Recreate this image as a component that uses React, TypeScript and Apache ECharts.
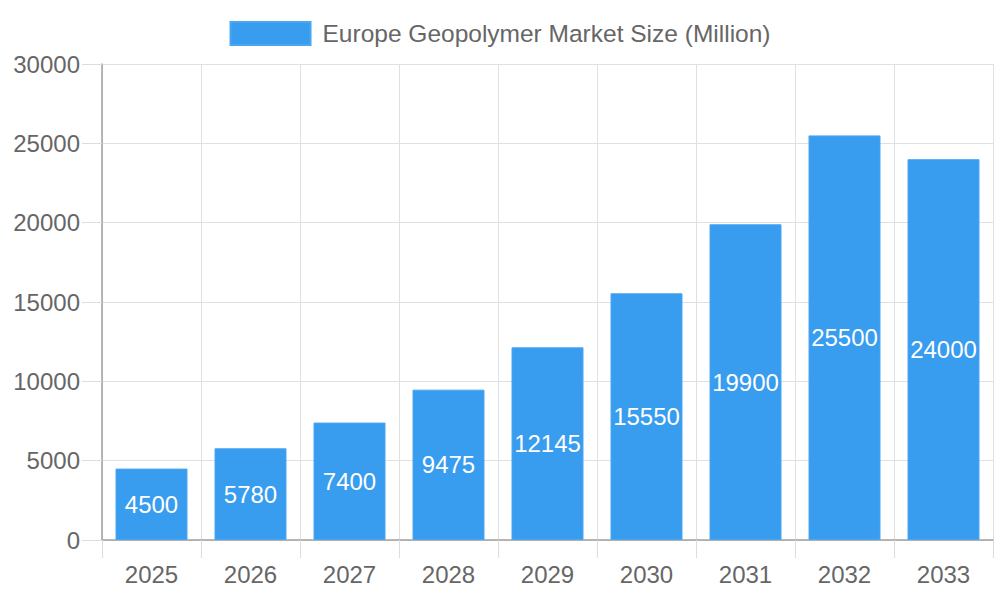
import React, { useEffect, useRef } from "react";
import * as echarts from "echarts";

const categories = ["2025", "2026", "2027", "2028", "2029", "2030", "2031", "2032", "2033"];
const marketSize = [4500, 5780, 7400, 9475, 12145, 15550, 19900, 25500, 24000];
const seriesName = "Europe Geopolymer Market Size (Million)";

const FONT = "'Liberation Sans', Arial, Helvetica, sans-serif";

export default function App() {
  const ref = useRef<HTMLDivElement>(null);
  useEffect(() => {
    const chart = echarts.init(ref.current!, undefined, { renderer: "svg" });
    chart.setOption({
      animation: false,
      textStyle: { fontFamily: FONT },
      legend: {
        top: 16,
        left: "center",
        itemWidth: 80,
        itemHeight: 23,
        itemGap: 12,
        textStyle: { fontSize: 24.5, color: "#666", fontFamily: FONT, padding: [0, 0, 0, 7] },
        data: [{ name: seriesName, icon: "rect" }],
      },
      grid: { left: 102, right: 7, top: 64, bottom: 60 },
      xAxis: {
        type: "category",
        data: categories,
        boundaryGap: true,
        axisLine: { lineStyle: { color: "#a0a0a0", width: 1.5 } },
        axisTick: { show: true, length: 18, alignWithLabel: false, lineStyle: { color: "#dddddd" } },
        splitLine: { show: true, lineStyle: { color: "#e0e0e0" } },
        axisLabel: { fontSize: 24, color: "#666", margin: 22, fontFamily: FONT },
      },
      yAxis: {
        type: "value",
        min: 0,
        max: 30000,
        interval: 5000,
        axisLine: { show: true, lineStyle: { color: "#a0a0a0", width: 1.5 } },
        axisTick: { show: true, length: 20, lineStyle: { color: "#dddddd" } },
        splitLine: { show: true, lineStyle: { color: "#e0e0e0" } },
        axisLabel: {
          fontSize: 24,
          color: "#666",
          margin: 22,
          fontFamily: FONT,
          formatter: (v: number) => String(v),
        },
      },
      series: [
        {
          name: seriesName,
          type: "bar",
          data: marketSize,
          barWidth: 72,
          itemStyle: { color: "#389cef", borderColor: "#4aa6f2", borderWidth: 1 },
          label: {
            show: true,
            position: "inside",
            color: "#fff",
            fontSize: 24,
            fontFamily: FONT,
          },
        },
      ],
    });
    return () => chart.dispose();
  }, []);
  return <div ref={ref} style={{ width: 1000, height: 600, position: "absolute", left: 0, top: 0 }} />;
}
